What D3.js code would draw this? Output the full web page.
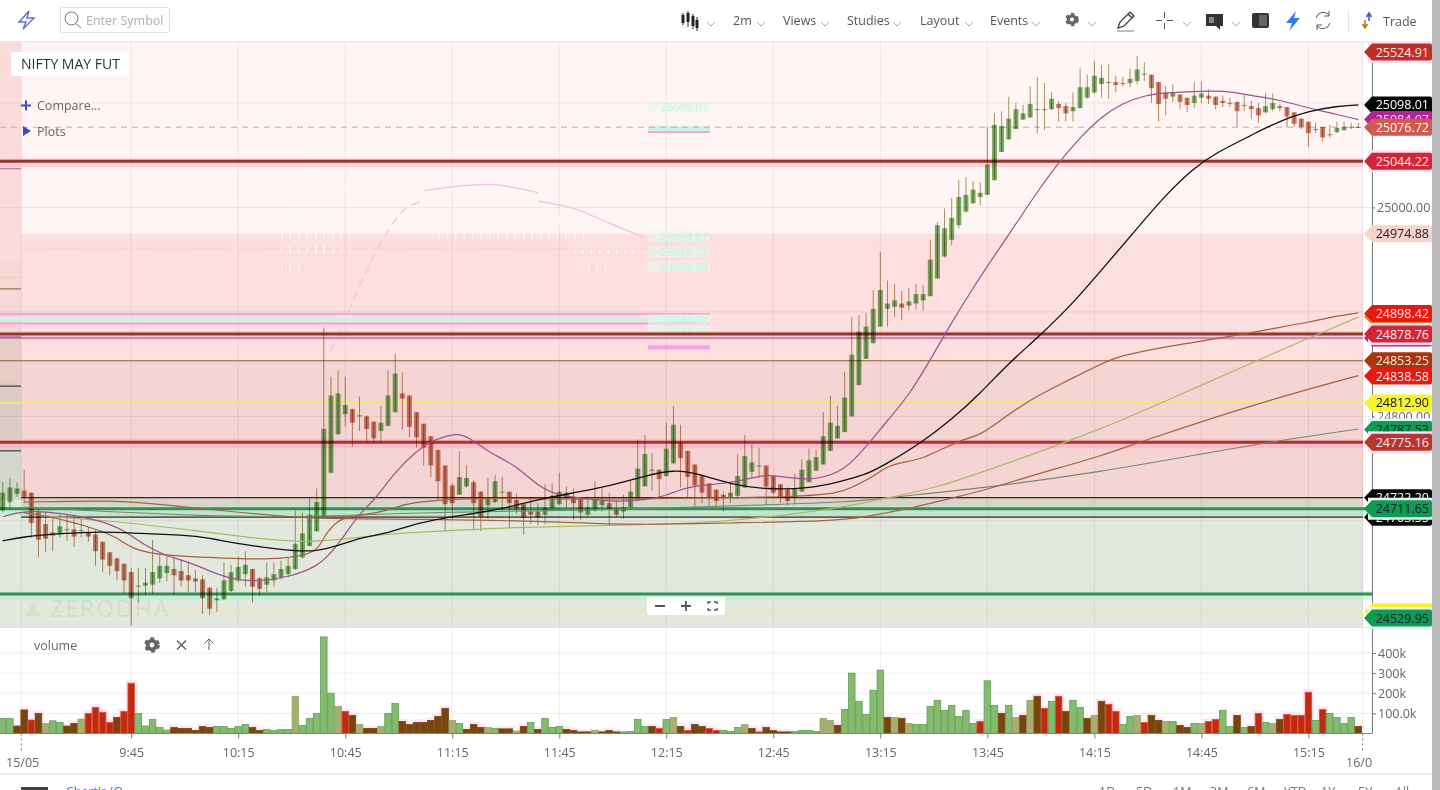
<!DOCTYPE html>
<html>
<head>
<meta charset="utf-8">
<script src="https://cdn.jsdelivr.net/npm/d3@7"></script>
<style>
    html, body { margin: 0; padding: 0; background: #fff; overflow: hidden; }
    svg { display: block; font-family: "Open Sans", sans-serif; }
    .axis path { display: none; }
    .axis text { font-family: "Open Sans", sans-serif; font-size: 12.5px; fill: #666; }
    .axis line { stroke: #777; }
    .candle { mix-blend-mode: multiply; }
</style>
</head>
<body>
<svg id="chart" width="1440" height="790"></svg>
<script>
// candle index 0 is the 9:45 bar, first bar is index -18
const firstIndex = -18;

const opens = [
    24710,24718,24726,24729,24727,24708,24697,24689,24687,24692,
    24692,24690,24689,24687,24680,24670,24664,24659,24651,24637,
    24638,24639,24645,24650,24654,24652,24648,24645,24644,24636,
    24624,24625,24633,24643,24649,24654,24645,24639,24643,24646,
    24649,24654,24665,24676,24690,24704,24746,24783,24802,24807,
    24800,24800,24795,24786,24791,24804,24822,24820,24804,24793,
    24781,24768,24753,24734,24725,24733,24737,24728,24715,24718,
    24727,24728,24720,24716,24709,24709,24706,24712,24716,24722,
    24723,24721,24706,24710,24715,24717,24712,24709,24713,24720,
    24733,24748,24749,24743,24755,24775,24767,24754,24744,24736,
    24730,24725,24722,24724,24732,24747,24752,24753,24743,24735,
    24730,24722,24728,24737,24748,24754,24767,24779,24785,24800,
    24830,24855,24870,24886,24903,24905,24908,24906,24908,24911,
    24915,24932,24953,24969,24983,24996,25004,25010,25012,25026,
    25053,25065,25075,25084,25086,25093,25093,25094,25099,25097,
    25092,25095,25105,25110,25118,25119,25120,25119,25119,25121,
    25127,25127,25120,25110,25106,25108,25105,25100,25105,25107,
    25106,25102,25100,25101,25097,25097,25095,25091,25094,25097,
    25096,25091,25085,25082,25075,25077,25070,25072,25074,25076,25076
];
const closes = [
    24727,24732,24731,24723,24698,24682,24683,24686,24695,24691,
    24685,24691,24685,24671,24663,24657,24652,24643,24626,24638,
    24641,24651,24657,24657,24648,24643,24643,24642,24626,24616,
    24626,24643,24651,24656,24658,24637,24635,24646,24649,24654,
    24657,24678,24688,24706,24718,24788,24820,24822,24811,24794,
    24801,24788,24779,24794,24820,24841,24817,24790,24780,24770,
    24753,24738,24716,24717,24742,24741,24717,24704,24722,24738,
    24728,24717,24712,24703,24706,24703,24713,24724,24728,24727,
    24717,24708,24713,24720,24719,24711,24706,24713,24728,24750,
    24764,24749,24740,24769,24792,24760,24742,24734,24727,24722,
    24719,24722,24727,24743,24762,24756,24753,24733,24727,24722,
    24719,24731,24749,24758,24761,24781,24794,24791,24818,24859,
    24881,24886,24903,24921,24908,24911,24904,24910,24917,24917,
    24950,24983,24980,24990,25010,25012,25017,25014,25041,25079,
    25078,25085,25094,25090,25099,25094,25094,25104,25095,25090,
    25096,25115,25115,25126,25124,25120,25117,25118,25123,25132,
    25128,25114,25099,25104,25110,25101,25098,25107,25109,25104,
    25098,25100,25099,25092,25098,25094,25088,25097,25100,25095,
    25087,25080,25077,25071,25074,25067,25069,25076,25077,25077,25077
];
const highs = [
    24737,24741,24737,24749,24727,24712,24708,24704,24707,24706,
    24704,24703,24694,24691,24680,24670,24665,24659,24655,24655,
    24655,24682,24669,24667,24666,24663,24660,24653,24648,24637,
    24636,24660,24658,24666,24671,24654,24646,24660,24660,24662,
    24665,24710,24708,24723,24731,24885,24838,24844,24838,24807,
    24819,24801,24795,24810,24844,24860,24842,24820,24804,24793,
    24781,24768,24753,24736,24767,24753,24739,24728,24741,24744,
    24742,24728,24726,24716,24723,24717,24735,24736,24746,24733,
    24731,24721,24723,24738,24731,24727,24720,24725,24739,24778,
    24782,24765,24749,24794,24810,24792,24767,24754,24744,24736,
    24730,24728,24736,24764,24782,24773,24770,24753,24743,24735,
    24732,24745,24759,24769,24768,24804,24820,24810,24843,24895,
    24897,24899,24921,24957,24930,24927,24920,24923,24927,24926,
    24969,24986,24999,25009,25026,25029,25025,25024,25077,25090,
    25092,25106,25100,25098,25116,25125,25119,25110,25102,25100,
    25110,25133,25127,25140,25136,25137,25126,25125,25133,25145,
    25139,25127,25120,25116,25118,25108,25105,25120,25120,25113,
    25106,25107,25105,25101,25108,25102,25100,25109,25109,25099,
    25096,25091,25085,25082,25081,25077,25079,25082,25082,25081,25081
];
const lows = [
    24708,24712,24723,24717,24684,24665,24670,24671,24684,24681,
    24675,24684,24680,24657,24651,24648,24643,24631,24600,24622,
    24629,24630,24641,24642,24630,24637,24632,24632,24611,24610,
    24613,24624,24632,24641,24637,24622,24628,24632,24637,24644,
    24646,24653,24664,24676,24690,24704,24746,24782,24790,24771,
    24786,24775,24775,24776,24790,24804,24787,24780,24770,24753,
    24742,24720,24690,24701,24725,24732,24691,24690,24702,24717,
    24709,24693,24707,24687,24697,24696,24697,24712,24715,24713,
    24701,24701,24704,24709,24709,24696,24704,24702,24713,24720,
    24733,24729,24722,24742,24755,24732,24723,24713,24717,24714,
    24713,24709,24717,24721,24732,24741,24741,24715,24725,24717,
    24715,24716,24728,24737,24748,24754,24767,24779,24785,24800,
    24830,24855,24870,24886,24886,24895,24892,24901,24902,24901,
    24915,24932,24952,24964,24980,24995,25003,25002,25012,25026,
    25053,25065,25075,25084,25086,25071,25074,25093,25082,25082,
    25082,25095,25104,25109,25105,25104,25110,25116,25115,25118,
    25121,25100,25082,25088,25101,25094,25091,25095,25100,25099,
    25094,25096,25096,25077,25092,25085,25081,25090,25092,25092,
    25077,25077,25075,25058,25071,25063,25067,25071,25073,25075,25076
];

// volume in thousands, kinds: g up, r down, b down dark, t overlap tan
const volumes = [
    75,75,37,117,67,100,50,63,55,37,
    50,72,100,130,105,55,80,110,250,100,
    37,70,30,17,30,25,25,15,35,30,
    35,35,25,35,45,30,15,20,15,20,
    20,185,40,75,100,480,200,135,110,90,
    45,25,25,35,100,150,60,45,55,55,
    65,85,125,65,50,20,45,30,30,25,
    23,23,12,35,55,20,75,30,35,20,
    15,8,8,15,8,15,8,8,10,70,
    35,35,25,70,80,35,15,45,35,25,
    15,15,10,30,45,25,8,30,15,8,
    8,10,15,15,10,75,65,40,120,300,
    160,95,215,315,80,80,75,50,45,45,
    135,165,115,140,85,115,50,60,262,140,
    100,140,80,90,165,185,125,160,185,110,
    165,130,75,90,160,145,110,45,85,90,
    55,90,65,60,60,40,30,50,50,60,
    70,115,35,90,30,35,100,55,50,70,
    95,90,90,205,65,120,100,80,50,80,35
];
const volumeKinds = (
    "ggbbrbtggb" + "btrrrrbrrg" + "ggggbbbbbb" + "gggggbbggg" +
    "gtgggggtrb" + "tbbtggbbbb" + "bbbtgbbbtg" + "bbtbgbgggb" +
    "bbbtbbbggg" + "gbrgtbrbbr" + "rgggtbrbbb" + "bggggttbgg" +
    "ggggbtbtgg" + "gggggggrgg" + "bgtbtbrgrb" + "ggbtbrrggt" +
    "rbbtgbbgtr" + "rggbgbrgtb" + "rrrrgrggggb"
).split("");

// moving averages, [candle index, price]
const maMagenta = [[-18,24704],[-15,24710],[-10,24708],[-4,24700],[-1,24691],[2,24676],[5,24666],[8,24661],[11,24652],[14,24644],[18,24642],[22,24646],[26,24656],[28,24669],[30,24687],[32,24707],[34,24719],[37,24747],[40,24767],[42,24776],[44,24781],[46,24784],[48,24777],[50,24766],[54,24753],[57,24733],[60,24724],[63,24722],[68,24718],[72,24720],[75,24724],[78,24733],[82,24735],[86,24739],[89,24745],[92,24741],[96,24739],[100,24748],[103,24771],[106,24796],[109,24820],[112,24854],[115,24890],[118,24923],[121,24954],[124,24984],[127,25015],[130,25043],[133,25067],[136,25087],[139,25100],[142,25107],[145,25110],[150,25111],[153,25112],[157,25107],[161,25103],[165,25095],[169,25089],[172,25084]];
const maBlack = [[-18,24681],[-15,24685],[-10,24688],[-4,24690],[1,24688],[9,24686],[12,24682],[17,24676],[23,24671],[26,24671],[29,24676],[32,24684],[36,24688],[39,24696],[44,24703],[50,24709],[54,24715],[58,24722],[63,24728],[68,24735],[72,24743],[76,24749],[79,24746],[84,24735],[89,24730],[95,24731],[99,24737],[103,24744],[106,24755],[111,24776],[115,24797],[119,24822],[123,24851],[127,24875],[132,24908],[137,24948],[141,24980],[145,25012],[149,25038],[152,25052],[157,25069],[161,25083],[165,25092],[169,25097],[172,25098]];
const maBrownFast = [[-15,24708],[-9,24701],[-4,24690],[-2,24684],[0,24674],[3,24668],[10,24665],[15,24664],[19,24663],[26,24667],[27,24686],[29,24701],[31,24705],[35,24708],[37,24713],[39,24717],[43,24720],[50,24722],[60,24721],[70,24721],[80,24722],[93,24723],[99,24726],[101,24732],[104,24742],[106,24753],[109,24757],[111,24760],[114,24770],[117,24779],[119,24782],[122,24797],[126,24816],[130,24830],[135,24847],[138,24857],[143,24864],[147,24869],[152,24874],[160,24884],[165,24890],[168,24895],[172,24899]];
const maBrownSlow = [[-15,24718],[-2,24720],[5,24715],[14,24709],[23,24703],[30,24702],[49,24701],[60,24699],[71,24696],[83,24698],[99,24700],[103,24704],[110,24713],[115,24722],[119,24728],[127,24745],[136,24762],[142,24777],[158,24813],[172,24839]];
const maOlive = [[-15,24708],[-12,24704],[-4,24701],[10,24690],[19,24682],[24,24680],[27,24681],[32,24684],[35,24687],[40,24689],[53,24694],[71,24696],[83,24699],[92,24706],[99,24712],[106,24722],[113,24732],[119,24746],[136,24787],[150,24830],[158,24854],[165,24875],[172,24895]];
const maGrey = [[-15,24713],[-4,24709],[10,24705],[23,24703],[40,24708],[60,24710],[69,24711],[87,24715],[101,24718],[107,24723],[119,24731],[136,24747],[150,24764],[159,24775],[172,24788]];

// horizontal levels drawn across the price panel
const levelPrices = [25044.22, 24878.76, 24875, 24853.25, 24812.90, 24775.16, 24722.20, 24711.65, 24703.55, 24630, 24613, 25076.72];
const levelKinds = ["red","red","purple","brown","yellow","brightRed","black","green","black","green","paleYellow","dash"];

// flags on the price scale, later ones sit on top
const flagPrices = [25524.91,25098.01,25084.07,25076.72,25044.22,24974.88,24895.30,24898.42,24875.00,24878.76,24853.25,24838.58,24812.90,24787.53,24775.16,24722.20,24703.55,24711.65,24613.00,24529.95];
const flagKinds = ["darkRed","black","magenta","salmon","crimson","pale","orange","red","magenta","crimson","rust","red","yellow","green","brick","black","black","green","yellow","green"];

const priceTicks = [25000, 24800];
const gridPrices = [25100, 25000, 24900, 24800, 24700];
const bandEdges = [24974.88, 24853.25, 24722.20, 24703.55];
const stripEdges = [24950, 24892, 24879, 24833, 24769, 24720];
const volumeTicks = [100, 200, 300, 400];
const timeTicks = [0,15,30,45,60,75,90,105,120,135,150,165];
const timeLabels = ["9:45","10:15","10:45","11:15","11:45","12:15","12:45","13:15","13:45","14:15","14:45","15:15"];
const menuLabels = ["2m","Views","Studies","Layout","Events"];
const rangeLabels = ["1D","5D","1M","3M","6M","YTD","1Y","5Y","All"];

// left over screen smear, [price, from index, to index]
const ghostRows = [[25050,26,43],[25034,25,49],[25019,24,59],[25003,22,62],[24988,21,33],[24988,42,63],[24973,21,31],[24973,43,64],[24959,21,31],[24959,62,71],[24944,21,24],[24944,64,67]];
const ghostLines = [
    [[28,24863],[30,24894],[35,24966],[38,24996],[41,25006]],
    [[41,25016],[50,25022],[57,25014]],
    [[57,25006],[62,24999],[67,24985],[72,24971]]
];
const ghostPrices = [25096, 24972, 24957, 24943, 24892, 24881];
const ghostTexts = ["25098.01","25084.07","25076.72","24974.88","25044.22","25044.22"];
const ghostStripes = [24898, 24893, 24889];

const svg = d3.select("#chart");
const plotTop = 42, plotBottom = 627, axisX = 1372, bandRight = 1363, stripRight = 21;

const x = d3.scaleLinear().domain([0, 165]).range([131.2, 1308.4]);
const y = d3.scaleLinear().domain([24800, 25000]).range([416.4, 207.4]);
const v = d3.scaleLinear().domain([0, 400]).range([733.5, 653]);
const flagY = (p) => Math.max(52, Math.min(618, y(p)));

const bands = svg.append("g");

// Background zones
const bandColors = ["#fff5f4", "#fcdfde", "#f4d5d3", "#dad3c9", "#e2e8de"];
const bandStops = [plotTop].concat(bandEdges.map(y), [plotBottom]);
bandColors.forEach((c, i) => {
    bands.append("rect").attr("x", stripRight).attr("y", bandStops[i])
        .attr("width", bandRight - stripRight).attr("height", bandStops[i + 1] - bandStops[i]).attr("fill", c);
});
bands.append("rect").attr("x", bandRight).attr("y", plotTop).attr("width", axisX - bandRight).attr("height", plotBottom - plotTop).attr("fill", "#fff");

// Left strip, previous session zones
const stripColors = ["#fbdcda", "#f8d8d6", "#f3d5d2", "#e8ccc8", "#dcccc7", "#d2d6cd", "#e2e8de"];
const stripStops = [plotTop].concat(stripEdges.map(y), [plotBottom]);
stripColors.forEach((c, i) => {
    bands.append("rect").attr("x", 0).attr("y", stripStops[i]).attr("width", stripRight)
        .attr("height", stripStops[i + 1] - stripStops[i]).attr("fill", c);
});

// Grid
const grid = svg.append("g").attr("stroke", "#000").attr("stroke-opacity", 0.07);
gridPrices.forEach((p) => {
    grid.append("line").attr("x1", 0).attr("x2", axisX).attr("y1", y(p)).attr("y2", y(p));
});
volumeTicks.forEach((t) => {
    grid.append("line").attr("x1", 0).attr("x2", axisX).attr("y1", v(t)).attr("y2", v(t));
});
const sessionEdges = [x(-15.4), x(172.6)];
timeTicks.map(x).concat(sessionEdges).forEach((px) => {
    grid.append("line").attr("x1", px).attr("x2", px).attr("y1", plotTop).attr("y2", 733);
});

// Watermark
svg.append("path").attr("d", "M25,616 L33,602 L42,616 Z").attr("fill", "#d8dfd4");
svg.append("text").attr("x", 50).attr("y", 617).attr("font-size", 23).attr("letter-spacing", 2)
    .attr("fill", "#d3dbd0").text("ZERODHA");

// Smear from the screen grab
const ghost = svg.append("g");
ghostRows.forEach((r) => {
    ghost.append("line").attr("x1", x(r[1])).attr("x2", x(r[2])).attr("y1", y(r[0])).attr("y2", y(r[0]))
        .attr("stroke", "#f2fff8").attr("stroke-width", 8).attr("stroke-opacity", 0.75).attr("stroke-dasharray", "1.5 7");
});
ghost.append("line").attr("x1", stripRight).attr("x2", 710).attr("y1", y(24961)).attr("y2", y(24961))
    .attr("stroke", "#fcc4dc").attr("stroke-dasharray", "5 4");
const ghostLine = d3.line().x((d) => x(d[0])).y((d) => y(d[1])).curve(d3.curveMonotoneX);
ghostLines.forEach((g, i) => {
    ghost.append("path").attr("d", ghostLine(g)).attr("fill", "none").attr("stroke", "#f8bce4")
        .attr("stroke-width", 1.2).attr("stroke-dasharray", i === 0 ? "9 5" : null);
});
ghostStripes.forEach((p, i) => {
    ghost.append("line").attr("x1", 0).attr("x2", 710).attr("y1", y(p)).attr("y2", y(p))
        .attr("stroke", i === 1 ? "#c8f5e2" : "#fb9fd8").attr("stroke-width", i === 1 ? 4 : 2);
});
ghostPrices.forEach((p, i) => {
    ghost.append("rect").attr("x", 648).attr("y", y(p) - 6).attr("width", 62).attr("height", 11).attr("fill", "#e3f7ee").attr("opacity", 0.55);
    ghost.append("text").attr("x", 708).attr("y", y(p) + 4).attr("text-anchor", "end").attr("font-size", 11)
        .attr("fill", "#bff5e2").text(ghostTexts[i]);
});
ghost.append("rect").attr("x", 648).attr("y", y(24868)).attr("width", 62).attr("height", 4).attr("fill", "#fb9fd8");
ghost.append("rect").attr("x", 648).attr("y", y(25078)).attr("width", 62).attr("height", 5).attr("fill", "#c8f5e2");
ghost.append("rect").attr("x", 648).attr("y", y(25073)).attr("width", 62).attr("height", 2).attr("fill", "#fb9fd8");

// Levels
const levelStyle = {
    red: {stroke: "#8f3a2a", width: 3, halo: "#ffb6d6"},
    brightRed: {stroke: "#ad322a", width: 3, halo: "#ffa8c4"},
    green: {stroke: "#3b8a58", width: 3, halo: "#a9f7cf"},
    purple: {stroke: "#8a5585", width: 1},
    brown: {stroke: "#8a5a30", width: 1.2},
    yellow: {stroke: "#f3e86a", width: 2},
    paleYellow: {stroke: "#eeea90", width: 1.5},
    black: {stroke: "#332a28", width: 1.2},
    dash: {stroke: "#cfa898", width: 1, dash: "6 5"}
};
const levels = svg.append("g");
levelPrices.forEach((p, i) => {
    const s = levelStyle[levelKinds[i]];
    const right = levelKinds[i] === "green" ? axisX : bandRight;
    if (s.halo) {
        levels.append("rect").attr("x", 0).attr("y", y(p) - 3).attr("width", right).attr("height", 9)
            .attr("fill", s.halo).attr("opacity", 0.55);
    }
    levels.append("line").attr("x1", stripRight * (levelKinds[i] === "black" || levelKinds[i] === "paleYellow" ? 1 : 0)).attr("x2", right)
        .attr("y1", y(p)).attr("y2", y(p)).attr("stroke", s.stroke).attr("stroke-width", s.width)
        .attr("stroke-dasharray", s.dash || null);
});

// Short levels left in the strip from the previous session
const stripLevels = [[25037, "#a86a95"], [24933, "#e8dc70"], [24922, "#8a5a30"], [24876, "#8a5585"], [24829, "#222"], [24767, "#222"], [24615, "#eeea90"]];
stripLevels.forEach((d) => {
    levels.append("line").attr("x1", 0).attr("x2", stripRight).attr("y1", y(d[0])).attr("y2", y(d[0])).attr("stroke", d[1]);
});

// Candles
const candles = opens.map((o, i) => ({i: firstIndex + i, o: o, c: closes[i], h: highs[i], l: lows[i]}));
const candleGroup = svg.append("g");
const candleColor = (d) => d.c >= d.o ? "#7bb36a" : "#cd8169";
candleGroup.selectAll("line").data(candles).enter().append("line")
    .attr("class", "candle")
    .attr("x1", (d) => x(d.i)).attr("x2", (d) => x(d.i))
    .attr("y1", (d) => y(d.h)).attr("y2", (d) => y(d.l))
    .attr("stroke", (d) => d.c >= d.o ? "#a39a66" : "#b98a6a");
candleGroup.selectAll("rect").data(candles).enter().append("rect")
    .attr("class", "candle")
    .attr("x", (d) => x(d.i) - 2.5).attr("width", 5)
    .attr("y", (d) => y(Math.max(d.o, d.c)))
    .attr("height", (d) => Math.max(1, Math.abs(y(d.o) - y(d.c))))
    .attr("fill", candleColor);

// Moving averages
const maLine = d3.line().x((d) => x(d[0])).y((d) => y(d[1])).curve(d3.curveBasis);
const maSeries = [
    {data: maGrey, color: "#76896a", width: 1.1},
    {data: maOlive, color: "#abb866", width: 1.2},
    {data: maBrownSlow, color: "#a8623c", width: 1.2},
    {data: maBrownFast, color: "#a65f3a", width: 1.2},
    {data: maMagenta, color: "#a0508f", width: 1.2},
    {data: maBlack, color: "#111", width: 1.3}
];
maSeries.forEach((s) => {
    svg.append("path").attr("d", maLine(s.data)).attr("fill", "none")
        .attr("stroke", s.color).attr("stroke-width", s.width);
});

// Panel separators
svg.append("rect").attr("x", 0).attr("y", 627).attr("width", axisX).attr("height", 1).attr("fill", "#dfe3dc");
svg.append("rect").attr("x", 0).attr("y", 41).attr("width", 1432).attr("height", 1.5).attr("fill", "#e9e9e9");
svg.append("rect").attr("x", 0).attr("y", 773).attr("width", 1432).attr("height", 1.5).attr("fill", "#e2e2e2");

// Volume panel
const barWidth = x(1) - x(0);
const volumeFill = d3.scaleOrdinal().domain(["g", "r", "b", "t"]).range(["#84bb6e", "#c02a0f", "#7c430d", "#a9ad72"]);
const volumeStroke = d3.scaleOrdinal().domain(["g", "r", "b", "t"]).range(["#629f56", "#e0503a", "#6e4a12", "#8fa862"]);
const volumeBars = svg.append("g");
volumes.forEach((d, i) => {
    const kind = volumeKinds[i];
    const px = x(firstIndex + i);
    if (kind === "r" || kind === "b") {
        volumeBars.append("rect").attr("x", px - barWidth / 2 - 2).attr("y", v(d) - 3)
            .attr("width", barWidth + 4).attr("height", v(0) - v(d) + 3).attr("fill", "#ffe6f6");
    }
});
volumes.forEach((d, i) => {
    const kind = volumeKinds[i];
    volumeBars.append("rect").attr("x", x(firstIndex + i) - barWidth / 2 + 0.3).attr("y", v(d))
        .attr("width", barWidth - 0.6).attr("height", v(0) - v(d))
        .attr("fill", volumeFill(kind)).attr("stroke", volumeStroke(kind)).attr("stroke-width", 0.8);
});
svg.append("line").attr("x1", 0).attr("x2", axisX).attr("y1", v(0)).attr("y2", v(0)).attr("stroke", "#5f9a5c");

// Axes
const priceAxis = d3.axisRight(y).tickValues(priceTicks).tickSize(3).tickPadding(2).tickFormat(d3.format(".2f"));
const axisGroup = svg.append("g").attr("class", "axis").attr("transform", `translate(${axisX},0)`).call(priceAxis);
const volumeAxis = d3.axisRight(v).tickValues(volumeTicks).tickSize(4).tickPadding(2)
    .tickFormat((d) => d === 100 ? "100.0k" : d + "k");
svg.append("g").attr("class", "axis").attr("transform", `translate(${axisX},0)`).call(volumeAxis);
svg.append("line").attr("x1", axisX + 0.5).attr("x2", axisX + 0.5).attr("y1", plotTop).attr("y2", 733.5).attr("stroke", "#777");
const timeAxis = d3.axisBottom(x).tickValues(timeTicks).tickSize(5).tickPadding(10)
    .tickFormat((d, i) => timeLabels[i]);
svg.append("g").attr("class", "axis").attr("transform", "translate(0,733.5)").call(timeAxis);
sessionEdges.forEach((px) => {
    svg.append("line").attr("x1", px).attr("x2", px).attr("y1", 733.5).attr("y2", 752)
        .attr("stroke", "#777").attr("stroke-dasharray", "2 3");
});
svg.append("text").attr("x", 6).attr("y", 767).attr("font-size", 12.5).attr("fill", "#666").text("15/05");
svg.append("text").attr("x", 1346).attr("y", 767).attr("font-size", 12.5).attr("fill", "#666").text("16/0");

// Price flags
const flagStyle = {
    darkRed: {fill: "#bd2f2b", text: "#ffe4e8", halo: "#ffe0f6"},
    black: {fill: "#060606", text: "#fff"},
    magenta: {fill: "#b3229b", text: "#ffd8f4"},
    salmon: {fill: "#ce5a50", text: "#fff"},
    crimson: {fill: "#cf2737", text: "#ffe4e8", halo: "#ffe0f6"},
    pale: {fill: "#f8d3cd", text: "#222"},
    orange: {fill: "#d98a32", text: "#222"},
    red: {fill: "#e51a12", text: "#ffe8e8"},
    rust: {fill: "#a9350e", text: "#ffe8e0"},
    yellow: {fill: "#f6f52c", text: "#111"},
    green: {fill: "#129a52", text: "#123", halo: "#dcfff2"},
    brick: {fill: "#b63631", text: "#ffe4e4", halo: "#ffe0f6"}
};
const flags = svg.append("g").attr("font-size", 12.5);
flagPrices.forEach((p, i) => {
    const s = flagStyle[flagKinds[i]];
    const g = flags.append("g").attr("transform", `translate(0,${flagY(p)})`);
    if (s.halo) {
        g.append("rect").attr("x", 1368).attr("y", -11).attr("width", 64).attr("height", 22).attr("fill", s.halo);
    }
    g.append("path").attr("d", "M1364,0 L1372,-8.5 L1430,-8.5 Q1432,-8.5 1432,-6.5 L1432,6.5 Q1432,8.5 1430,8.5 L1372,8.5 Z").attr("fill", s.fill);
    g.append("text").attr("x", 1429).attr("y", 4.5).attr("text-anchor", "end").attr("fill", s.text).text(p.toFixed(2));
});

// Scrollbar edge
svg.append("rect").attr("x", 1432).attr("y", 0).attr("width", 8).attr("height", 790).attr("fill", "#b9b9b9");

// Chart overlay labels
svg.append("rect").attr("x", 11).attr("y", 52).attr("width", 118).attr("height", 24).attr("fill", "#fff");
svg.append("text").attr("x", 21).attr("y", 68.5).attr("font-size", 14).attr("fill", "#333").text("NIFTY MAY FUT");
svg.append("path").attr("d", "M21,105.5 H31 M26,100.5 V110.5").attr("stroke", "#3a4ec0").attr("stroke-width", 2);
svg.append("text").attr("x", 37).attr("y", 109.5).attr("font-size", 12.5).attr("fill", "#666").text("Compare...");
svg.append("path").attr("d", "M23,126 L31,131 L23,136 Z").attr("fill", "#3a4ec0");
svg.append("text").attr("x", 37).attr("y", 136).attr("font-size", 12.5).attr("fill", "#666").text("Plots");

// Zoom buttons
svg.append("rect").attr("x", 647).attr("y", 597).attr("width", 78).attr("height", 18).attr("rx", 2).attr("fill", "#fff");
svg.append("path").attr("d", "M655,606 H665 M681,606 H691 M686,601 V611").attr("stroke", "#555").attr("stroke-width", 1.8);
svg.append("path").attr("d", "M708,604 V602 H711 M714,602 H717 V604 M717,608 V610 H714 M711,610 H708 V608").attr("fill", "none").attr("stroke", "#555").attr("stroke-width", 1.4);

function gear(cx, cy, r) {
    const g = svg.append("g");
    g.append("circle").attr("cx", cx).attr("cy", cy).attr("r", r * 0.62).attr("fill", "none").attr("stroke", "#666").attr("stroke-width", r * 0.55);
    g.append("circle").attr("cx", cx).attr("cy", cy).attr("r", r * 0.95).attr("fill", "none").attr("stroke", "#666")
        .attr("stroke-width", r * 0.35).attr("stroke-dasharray", `${r * 0.55} ${r * 0.5}`);
    return g;
}

// Volume study header
svg.append("text").attr("x", 34).attr("y", 650).attr("font-size", 12.5).attr("fill", "#666").text("volume");
gear(152, 645, 7);
svg.append("path").attr("d", "M177,640.5 L186,649.5 M186,640.5 L177,649.5").attr("stroke", "#666").attr("stroke-width", 1.6);
svg.append("path").attr("d", "M209,650 V639 M204.5,643.5 L209,639 L213.5,643.5").attr("fill", "none").attr("stroke", "#666");

// Toolbar
svg.append("path").attr("d", "M29,11 L19,22 H26 L23,29 L34,18 H27 Z").attr("fill", "none").attr("stroke", "#5a6fd8").attr("stroke-width", 1.4);
svg.append("rect").attr("x", 60.5).attr("y", 7.5).attr("width", 109).attr("height", 25).attr("rx", 2).attr("fill", "#fff").attr("stroke", "#ddd");
svg.append("circle").attr("cx", 71.5).attr("cy", 18.5).attr("r", 6.5).attr("fill", "none").attr("stroke", "#777");
svg.append("path").attr("d", "M76,24 L81,28").attr("stroke", "#777");
svg.append("text").attr("x", 86).attr("y", 24.5).attr("font-size", 12.5).attr("fill", "#b0b0b0").text("Enter Symbol");

const menu = svg.append("g").attr("font-size", 12.5).attr("fill", "#555");
const menuX = [733, 783, 847, 920, 990];
const chevrons = [711, 761, 825, 897, 969, 1036, 1092, 1187, 1236];
menuLabels.forEach((m, i) => {
    menu.append("text").attr("x", menuX[i]).attr("y", 24.5).text(m);
});
chevrons.forEach((cx) => {
    svg.append("path").attr("d", `M${cx - 4},22 L${cx},26 L${cx + 4},22`).attr("fill", "none").attr("stroke", "#aaa");
});
menu.append("text").attr("x", 1383).attr("y", 26).text("Trade");

// Toolbar icons
svg.append("path").attr("d", "M683,13 V25 M688,11 V27 M693,14 V29 M697,17 V31").attr("stroke", "#222");
svg.append("path").attr("d", "M681.5,15 H684.5 V23 H681.5 Z M686.5,13 H689.5 V22 H686.5 Z M691.5,16 H694.5 V26 H691.5 Z M695.5,20 H698.5 V28 H695.5 Z").attr("fill", "#222");
gear(1072, 19.5, 6);
svg.append("path").attr("d", "M1118,28 L1120,22 L1130,12 L1134,16 L1124,26 Z M1128,14 L1132,18").attr("fill", "none").attr("stroke", "#333").attr("stroke-width", 1.2);
svg.append("path").attr("d", "M1117,31 H1134").attr("stroke", "#aaa").attr("stroke-width", 1.5);
svg.append("path").attr("d", "M1156,20.5 H1162 M1167,20.5 H1173 M1164.5,12 V18 M1164.5,23 V29").attr("stroke", "#555");
svg.append("path").attr("d", "M1206,14 H1223 V26 H1220 V30 L1216,26 H1206 Z").attr("fill", "#333");
svg.append("path").attr("d", "M1209,17 H1214 V23 H1209 Z").attr("fill", "#888");
svg.append("rect").attr("x", 1252).attr("y", 13).attr("width", 17).attr("height", 15).attr("rx", 2).attr("fill", "#333");
svg.append("rect").attr("x", 1259).attr("y", 15).attr("width", 8).attr("height", 11).attr("fill", "#666");
svg.append("path").attr("d", "M1296,11 L1286,23 H1292 L1289,31 L1300,18 H1294 Z").attr("fill", "#2f7de8");
svg.append("path").attr("d", "M1316,18 A7.5,7.5 0 0 1 1329,15 M1330,23 A7.5,7.5 0 0 1 1317,26 M1329,11 V16 H1324 M1317,30 V25 H1322").attr("fill", "none").attr("stroke", "#555");
svg.append("line").attr("x1", 1348.5).attr("x2", 1348.5).attr("y1", 10).attr("y2", 32).attr("stroke", "#e4e4e4");
svg.append("path").attr("d", "M1369,14 V21 M1366.5,17 L1369,13 L1371.5,17").attr("fill", "none").attr("stroke", "#3a5fd8").attr("stroke-width", 1.6);
svg.append("path").attr("d", "M1365,20 V27 M1362.5,24 L1365,28 L1367.5,24").attr("fill", "none").attr("stroke", "#c07a20").attr("stroke-width", 1.6);

// Footer, cut off by the bottom of the window
svg.append("rect").attr("x", 21).attr("y", 787).attr("width", 27).attr("height", 5).attr("fill", "#444");
svg.append("text").attr("x", 66).attr("y", 796).attr("font-size", 12.5).attr("fill", "#4a74c8").text("Chart's IQ");
rangeLabels.forEach((r, i) => {
    svg.append("text").attr("x", 1099 + i * 37).attr("y", 796).attr("font-size", 12.5).attr("fill", "#777").text(r);
});
</script>
</body>
</html>
